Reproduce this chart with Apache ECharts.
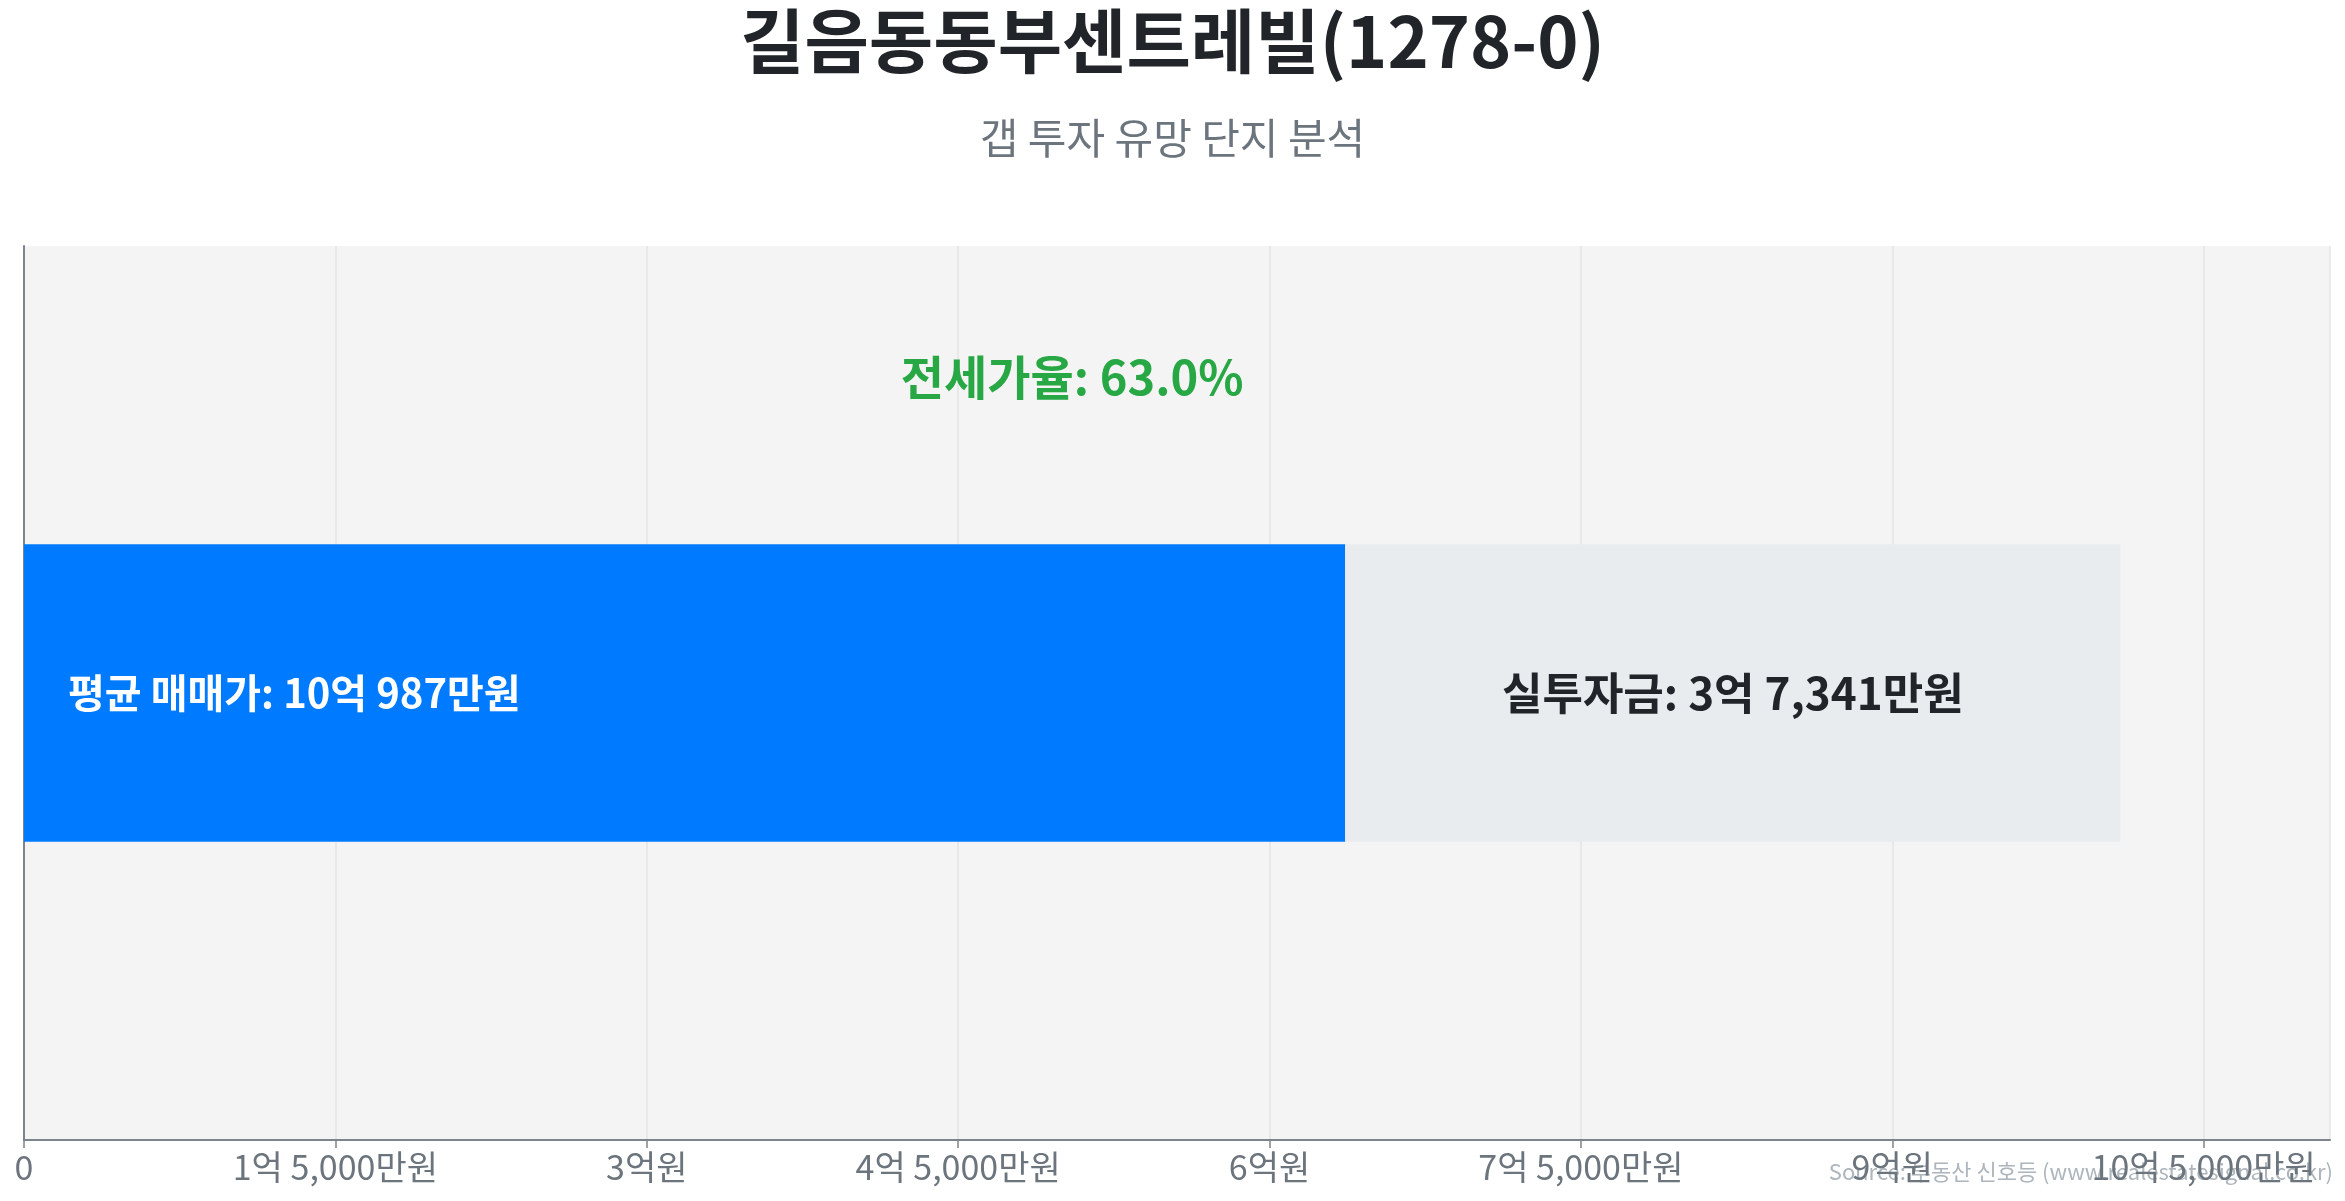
<!DOCTYPE html>
<html>
<head>
<meta charset="utf-8">
<script src="https://cdn.jsdelivr.net/npm/echarts@6/dist/echarts.min.js"></script>
<style>
html,body{margin:0;padding:0;background:#fff;}
#main{width:2345px;height:1201px;}
</style>
</head>
<body>
<div id="main"></div>
<script>
const titleText = '길음동동부센트레빌(1278-0)';
const subtitleText = '갭 투자 유망 단지 분석';
const sourceText = 'Source: 부동산 신호등 (www.realestatesignal.co.kr)';
const categories = ['길음동동부센트레빌'];
const avgPrice = [1009870000];      // 평균 매매가 (원)
const gapAmount = [373410000];      // 실투자금 (원)
const jeonseAmount = [636460000];   // 전세금 (원)
const jeonseRatio = [63.0];         // 전세가율 (%)
const tickInterval = 150000000;

const FONT = '"Noto Sans CJK KR", "Noto Sans", sans-serif';

function fmtWon(v) {
  if (v === 0) return '0';
  const eok = Math.floor(v / 100000000);
  const man = Math.round((v % 100000000) / 10000);
  let s = '';
  if (eok > 0) s += eok + '억';
  if (man > 0) s += (s ? ' ' : '') + man.toLocaleString('en-US') + '만원';
  else s += '원';
  return s;
}

const chart = echarts.init(document.getElementById('main'));
const xMax = avgPrice[0] * 1.1;

chart.setOption({
  backgroundColor: '#ffffff',
  textStyle: { fontFamily: FONT },
  title: [
    { text: titleText, left: 'center', top: 1,
      textStyle: { fontSize: 70, fontWeight: 'bold', color: '#212529', fontFamily: FONT } },
    { text: subtitleText, left: 'center', top: 112,
      textStyle: { fontSize: 42, fontWeight: 'normal', color: '#6c757d', fontFamily: FONT } }
  ],
  graphic: [
    { type: 'text', right: 12, bottom: 18,
      style: { text: sourceText, fill: '#adb5bd', font: '22px ' + FONT } }
  ],
  grid: { left: 24, right: 15, top: 246, bottom: 61, show: true, backgroundColor: '#f4f4f4', borderWidth: 0 },
  xAxis: {
    type: 'value', min: 0, max: xMax, interval: tickInterval,
    axisLine: { show: true, lineStyle: { color: '#7d848c', width: 2 } },
    axisTick: { show: true, length: 8, lineStyle: { color: '#7d848c', width: 1.5 } },
    axisLabel: { fontSize: 34, color: '#6c757d', margin: 10, showMaxLabel: false,
      formatter: v => fmtWon(v) },
    splitLine: { show: true, lineStyle: { color: '#e4e4e4', width: 1.5 } }
  },
  yAxis: {
    type: 'category', data: categories,
    axisLine: { show: true, lineStyle: { color: '#7d848c', width: 2 } },
    axisTick: { show: false },
    axisLabel: { show: false }
  },
  series: [
    {
      type: 'bar', stack: 'total', data: jeonseAmount, barWidth: '33.3%',
      itemStyle: { color: '#007bff' },
      label: { show: true, position: 'insideLeft', distance: 44, color: '#ffffff',
        fontSize: 40, fontWeight: 'bold', fontFamily: FONT,
        formatter: () => '평균 매매가: ' + fmtWon(avgPrice[0]) },
      markPoint: {
        symbol: 'circle', symbolSize: 0,
        data: [{ coord: [avgPrice[0] / 2, 0] }],
        label: { show: true, position: 'inside', offset: [0, -316], color: '#28a745',
          fontSize: 47, fontWeight: 'bold', fontFamily: FONT,
          formatter: () => '전세가율: ' + jeonseRatio[0].toFixed(1) + '%' }
      }
    },
    {
      type: 'bar', stack: 'total', data: gapAmount,
      itemStyle: { color: '#e9ecef' },
      label: { show: true, position: 'inside', color: '#212529',
        fontSize: 44, fontWeight: 'bold', fontFamily: FONT,
        formatter: () => '실투자금: ' + fmtWon(gapAmount[0]) }
    }
  ]
});
</script>
</body>
</html>
